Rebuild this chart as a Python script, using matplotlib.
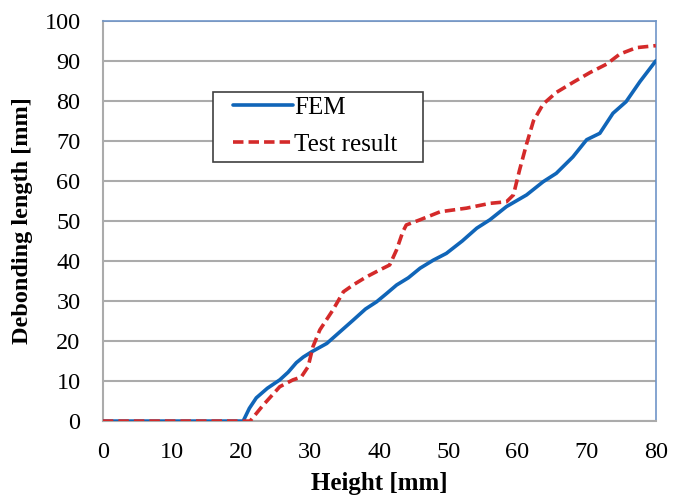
import numpy as np
import matplotlib.pyplot as plt
from matplotlib.patches import Rectangle

plt.rcParams['font.family'] = ['Liberation Serif', 'DejaVu Serif']

# FEM curve
fem_x = [0, 20.3, 21.2, 22.2, 23.8, 25.6, 26.8, 28.0, 29.0, 30.2, 32.4, 34.3, 36.2,
         38.0, 39.6, 41.0, 42.5, 44.2, 45.9, 47.8, 49.7, 52.0, 54.1, 56.0, 58.4,
         61.3, 63.7, 65.6, 68.0, 70.0, 71.9, 73.8, 75.7, 77.7, 80]
fem_y = [0, 0, 3.2, 5.8, 8.2, 10.3, 12.2, 14.6, 16.0, 17.3, 19.4, 22.3, 25.2,
         28.0, 29.8, 31.8, 34.0, 35.8, 38.2, 40.2, 41.9, 45.0, 48.2, 50.3, 53.6,
         56.5, 59.8, 61.9, 66.0, 70.3, 71.9, 76.9, 79.8, 84.8, 90]

# test result curve
test_x = [0, 21.3, 23.2, 25.6, 27.5, 28.7, 29.7, 30.4, 31.4, 33.3, 34.8, 36.2, 38.1,
          40.1, 41.5, 42.5, 43.4, 43.9, 45.9, 48.8, 52.6, 56.0, 58.4, 59.4, 60.3,
          61.3, 62.3, 63.7, 65.6, 68.0, 70.5, 72.9, 74.8, 77.2, 80]
test_y = [0, 0, 4.0, 8.6, 10.3, 11.0, 13.6, 18.6, 22.8, 27.8, 32.3, 34.0, 36.0,
          37.8, 39.0, 42.8, 47.3, 49.0, 50.3, 52.3, 53.2, 54.4, 54.8, 56.5, 62.8,
          69.2, 75.0, 79.2, 82.1, 84.6, 87.1, 89.2, 91.7, 93.3, 93.8]

fig = plt.figure(figsize=(6.81, 4.96), dpi=100)
ax = fig.add_axes([0.151, 0.151, 0.812, 0.807])

ax.plot(fem_x, fem_y, color='#1065b8', lw=2.6, label='FEM', zorder=3,
        solid_joinstyle='round', solid_capstyle='round')
ax.plot(test_x, test_y, color='#d42a2a', lw=2.6, ls=(0, (2.9, 1.4)), label='Test result',
        zorder=4, dash_joinstyle='round')

ax.set_xlim(0, 80)
ax.set_ylim(0, 100)
ax.set_xticks(np.arange(0, 81, 10))
ax.set_yticks(np.arange(0, 101, 10))
ax.yaxis.grid(True, color='#ababab', lw=1.5)
ax.set_axisbelow(True)
ax.tick_params(length=0, labelsize=17.5)
ax.tick_params(axis='x', pad=15)
ax.tick_params(axis='y', pad=16)

for side in ['top', 'right']:
    ax.spines[side].set_color('#6f95c8')
    ax.spines[side].set_linewidth(1.2)
for side in ['left', 'bottom']:
    ax.spines[side].set_color('#ababab')
    ax.spines[side].set_linewidth(1.5)

ax.set_xlabel('Height [mm]', fontsize=18, fontweight='bold', labelpad=6.5)
ax.set_ylabel('Debonding length [mm]', fontsize=17.5, fontweight='bold', labelpad=8)

# legend box drawn separately so its padding matches the original
ax.add_patch(Rectangle((0.199, 0.6475), 0.3797, 0.175, transform=ax.transAxes,
                       facecolor='white', edgecolor='#404040', lw=1.2, zorder=5))
leg = ax.legend(loc='upper left', bbox_to_anchor=(0.235, 0.812), fontsize=18,
                frameon=False, handlelength=2.4, handletextpad=0.05, borderpad=0,
                labelspacing=0.6, borderaxespad=0)
leg.set_zorder(6)

fig.savefig('out.png', dpi=100)
